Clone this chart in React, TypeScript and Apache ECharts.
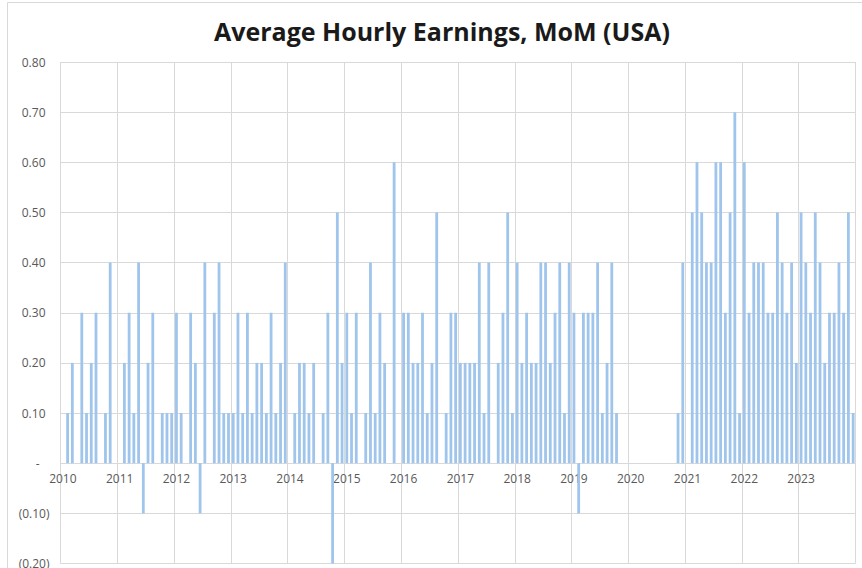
import React, { useEffect, useRef } from "react";
import * as echarts from "echarts";

// Monthly change of average hourly earnings (%), Jan..Dec of each year.
// 0 = unchanged month (no bar); null = no data shown.
const years = [2010, 2011, 2012, 2013, 2014, 2015, 2016, 2017, 2018, 2019, 2020, 2021, 2022, 2023];
const y2010 = [0, 0.1, 0.2, 0, 0.3, 0.1, 0.2, 0.3, 0, 0.1, 0.4, 0];
const y2011 = [0, 0.2, 0.3, 0.1, 0.4, -0.1, 0.2, 0.3, 0, 0.1, 0.1, 0.1];
const y2012 = [0.3, 0.1, 0, 0.3, 0.2, -0.1, 0.4, 0, 0.3, 0.4, 0.1, 0.1];
const y2013 = [0.1, 0.3, 0.1, 0.3, 0.1, 0.2, 0.2, 0.1, 0.3, 0.1, 0.2, 0.4];
const y2014 = [0, 0.1, 0.2, 0.2, 0.1, 0.2, 0, 0.1, 0.3, -0.2, 0.5, 0.2];
const y2015 = [0.3, 0.1, 0.3, 0, 0.1, 0.4, 0.1, 0.3, 0.2, 0, 0.6, 0];
const y2016 = [0.3, 0.3, 0.2, 0.2, 0.3, 0.1, 0.2, 0.5, 0, 0.1, 0.3, 0.3];
const y2017 = [0.2, 0.2, 0.2, 0.2, 0.4, 0.1, 0.4, 0, 0.2, 0.3, 0.5, 0.1];
const y2018 = [0.4, 0.2, 0.3, 0.2, 0.2, 0.4, 0.4, 0.2, 0.3, 0.4, 0.1, 0.4];
const y2019 = [0.3, -0.1, 0.3, 0.3, 0.3, 0.4, 0.1, 0.2, 0.4, 0.1, null, null];
const y2020 = [null, null, null, null, null, null, null, null, null, null, 0.1, 0.4];
const y2021 = [0, 0.5, 0.6, 0.5, 0.4, 0.4, 0.6, 0.6, 0.3, 0.5, 0.7, 0.1];
const y2022 = [0.6, 0.3, 0.4, 0.4, 0.4, 0.3, 0.3, 0.5, 0.4, 0.3, 0.4, 0.2];
const y2023 = [0.5, 0.4, 0.3, 0.5, 0.4, 0.2, 0.3, 0.3, 0.4, 0.3, 0.5, 0.1];

const yearValues = [y2010, y2011, y2012, y2013, y2014, y2015, y2016, y2017, y2018, y2019, y2020, y2021, y2022, y2023];
const monthNums = ["01", "02", "03", "04", "05", "06", "07", "08", "09", "10", "11", "12"];

const categories: string[] = [];
const values: (number | null)[] = [];
years.forEach((yr, i) => {
  monthNums.forEach((m, j) => {
    categories.push(`${yr}-${m}`);
    values.push(yearValues[i][j]);
  });
});

const Y_MIN = -0.2;
const Y_MAX = 0.8;

const FONT = "Open Sans";
const LABEL = "#595959";
const GRID = "#d9d9d9";

const W = 862;
const H = 568;
const GRID_TOP = 62;
const GRID_BOTTOM = 4.5;

export default function App() {
  const ref = useRef<HTMLDivElement>(null);
  useEffect(() => {
    if (!ref.current) return;
    const chart = echarts.init(ref.current, undefined, { renderer: "svg" });
    const plotH = H - GRID_TOP - GRID_BOTTOM;
    // move the category axis up to the zero line
    const zeroOffset = -plotH * ((0 - Y_MIN) / (Y_MAX - Y_MIN));
    chart.setOption({
      animation: false,
      backgroundColor: "#ffffff",
      title: {
        text: "Average Hourly Earnings, MoM (USA)",
        left: 209,
        top: 13,
        textStyle: { fontFamily: FONT, fontSize: 25, fontWeight: "bold", color: "#1a1a1a" },
      },
      graphic: [
        {
          type: "rect",
          shape: { x: 7.5, y: 2.5, width: 900, height: 700 },
          style: { fill: "none", stroke: GRID, lineWidth: 1 },
          silent: true,
        },
      ],
      grid: { left: 60.5, right: 6.5, top: GRID_TOP, bottom: GRID_BOTTOM, containLabel: false, outerBoundsMode: "none" },
      xAxis: {
        type: "category",
        data: categories,
        boundaryGap: true,
        offset: zeroOffset,
        axisLine: { show: true, onZero: false, lineStyle: { color: GRID, width: 1 } },
        axisTick: { show: false },
        axisLabel: {
          interval: (index: number) => index % 12 === 0,
          formatter: (v: string) => v.slice(0, 4),
          fontFamily: FONT,
          fontSize: 12,
          color: LABEL,
          margin: 9,
        },
        splitLine: {
          show: true,
          interval: (index: number) => index % 12 === 0,
          lineStyle: { color: GRID, width: 1 },
        },
      },
      yAxis: {
        type: "value",
        min: Y_MIN,
        max: Y_MAX,
        interval: 0.1,
        axisLine: { show: false },
        axisTick: { show: false },
        splitLine: { show: true, lineStyle: { color: GRID, width: 1 } },
        axisLabel: {
          fontFamily: FONT,
          fontSize: 12,
          color: LABEL,
          margin: 11,
          formatter: (v: number) => {
            const a = Math.abs(v);
            if (a < 1e-9) return "{z|-}";
            if (v < 0) return "(" + a.toFixed(2) + ")";
            return "{p|" + a.toFixed(2) + "}";
          },
          rich: {
            p: { fontFamily: FONT, fontSize: 12, color: LABEL, padding: [0, 4, 0, 0] },
            z: { fontFamily: FONT, fontSize: 12, color: LABEL, padding: [0, 10, 0, 0] },
          },
        },
      },
      series: [
        {
          type: "bar",
          data: values,
          barWidth: 2.8,
          itemStyle: { color: "#9fc5ec" },
        },
      ],
    });
    return () => chart.dispose();
  }, []);
  return (
    <div
      ref={ref}
      style={{ position: "fixed", left: 0, top: 0, width: W, height: H, background: "#fff" }}
    />
  );
}
